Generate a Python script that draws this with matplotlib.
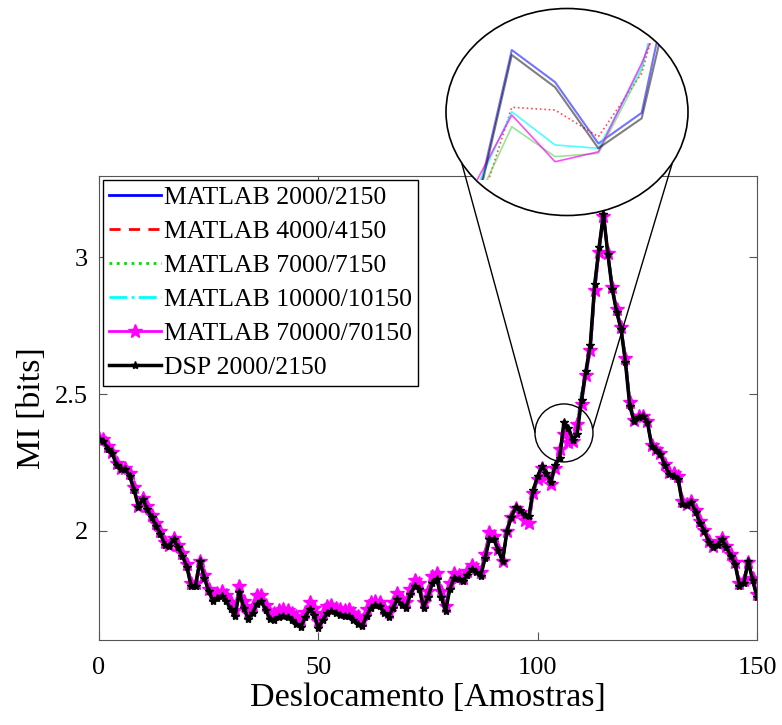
import matplotlib
matplotlib.use('Agg')
import matplotlib.pyplot as plt
from matplotlib.patches import Ellipse
from matplotlib.lines import Line2D
import numpy as np

plt.rcParams['font.family'] = ['Liberation Serif', 'DejaVu Serif']

# shift in samples
shift = np.arange(151)

# DSP 2000/2150
mi_dsp = [2.336, 2.33, 2.30, 2.285, 2.24, 2.225, 2.226, 2.20, 2.15, 2.088,
          2.117, 2.08, 2.05, 2.02, 1.99, 1.95, 1.945, 1.97, 1.94, 1.91,
          1.87, 1.80, 1.80, 1.89, 1.83, 1.78, 1.745, 1.755, 1.763, 1.745,
          1.715, 1.69, 1.777, 1.72, 1.68, 1.70, 1.735, 1.745, 1.71, 1.68,
          1.675, 1.685, 1.69, 1.685, 1.675, 1.66, 1.65, 1.685, 1.715, 1.695,
          1.645, 1.675, 1.70, 1.708, 1.70, 1.695, 1.69, 1.69, 1.675, 1.66,
          1.653, 1.69, 1.72, 1.73, 1.726, 1.70, 1.686, 1.72, 1.75, 1.73,
          1.72, 1.77, 1.80, 1.79, 1.72, 1.76, 1.81, 1.825, 1.76, 1.708,
          1.79, 1.83, 1.825, 1.817, 1.84, 1.86, 1.85, 1.836, 1.90, 1.97,
          1.97, 1.93, 1.89, 2.00, 2.05, 2.088, 2.075, 2.06, 2.055, 2.15,
          2.20, 2.237, 2.21, 2.18, 2.24, 2.268, 2.3966, 2.3745, 2.3327, 2.3532,
          2.48, 2.584, 2.68, 2.90, 3.036, 3.157, 3.01, 2.883, 2.80, 2.737,
          2.617, 2.456, 2.40, 2.416, 2.42, 2.398, 2.31, 2.295, 2.28, 2.24,
          2.208, 2.20, 2.19, 2.10, 2.095, 2.106, 2.07, 2.03, 2.00, 1.96,
          1.94, 1.95, 1.97, 1.94, 1.91, 1.88, 1.80, 1.81, 1.89, 1.82,
          1.76]

# MATLAB 70000/70150
mi_70000 = [2.34, 2.335, 2.31, 2.29, 2.25, 2.23, 2.23, 2.21, 2.16, 2.09,
            2.12, 2.09, 2.06, 2.03, 2.00, 1.96, 1.95, 1.975, 1.95, 1.92,
            1.88, 1.81, 1.81, 1.89, 1.84, 1.79, 1.765, 1.775, 1.78, 1.765,
            1.74, 1.71, 1.80, 1.745, 1.70, 1.725, 1.765, 1.765, 1.73, 1.70,
            1.70, 1.71, 1.715, 1.71, 1.70, 1.69, 1.675, 1.705, 1.74, 1.72,
            1.67, 1.70, 1.725, 1.73, 1.72, 1.715, 1.71, 1.715, 1.70, 1.69,
            1.675, 1.715, 1.74, 1.745, 1.74, 1.72, 1.705, 1.74, 1.775, 1.75,
            1.74, 1.79, 1.82, 1.81, 1.74, 1.78, 1.835, 1.845, 1.78, 1.725,
            1.81, 1.845, 1.84, 1.83, 1.855, 1.875, 1.865, 1.85, 1.915, 1.995,
            1.98, 1.935, 1.89, 2.00, 2.05, 2.085, 2.07, 2.04, 2.03, 2.14,
            2.19, 2.23, 2.20, 2.17, 2.23, 2.30, 2.3555, 2.3235, 2.3303, 2.3909,
            2.462, 2.57, 2.66, 2.88, 3.02, 3.15, 3.015, 2.89, 2.81, 2.745,
            2.63, 2.47, 2.405, 2.42, 2.42, 2.40, 2.315, 2.30, 2.285, 2.245,
            2.215, 2.21, 2.20, 2.11, 2.10, 2.11, 2.075, 2.035, 2.005, 1.965,
            1.945, 1.955, 1.975, 1.945, 1.915, 1.885, 1.81, 1.82, 1.885, 1.83,
            1.77]

# values around the zoomed peak (samples 105..110)
peak_idx = [105, 106, 107, 108, 109, 110]
peak_2000 = [2.271, 2.400, 2.378, 2.336, 2.357, 2.496]
peak_4000 = [2.268, 2.3608, 2.3589, 2.3406, 2.384, 2.491]
peak_7000 = [2.284, 2.3475, 2.327, 2.3292, 2.3863, 2.505]
peak_10000 = [2.294, 2.3577, 2.335, 2.3327, 2.3886, 2.49]

mi_2000 = list(mi_dsp)
mi_4000 = list(mi_70000)
mi_7000 = list(mi_70000)
mi_10000 = list(mi_70000)
for k, i in enumerate(peak_idx):
    mi_2000[i] = peak_2000[k]
    mi_4000[i] = peak_4000[k]
    mi_7000[i] = peak_7000[k]
    mi_10000[i] = peak_10000[k]

series = [
    ('MATLAB 2000/2150', mi_2000, dict(color='blue', ls='-', lw=2)),
    ('MATLAB 4000/4150', mi_4000, dict(color='red', ls=(0, (4, 3)), lw=2)),
    ('MATLAB 7000/7150', mi_7000, dict(color='#00dd00', ls=':', lw=2)),
    ('MATLAB 10000/10150', mi_10000, dict(color='cyan', ls='-.', lw=2)),
    ('MATLAB 70000/70150', mi_70000, dict(color='magenta', ls='-', lw=2,
                                          marker='*', ms=10)),
    ('DSP 2000/2150', mi_dsp, dict(color='black', ls='-', lw=2.5,
                                   marker='*', ms=6)),
]

W, H = 782, 725
fig = plt.figure(figsize=(W / 100, H / 100), dpi=100)
ax = fig.add_axes([99 / W, 85 / H, 658 / W, 464 / H])

for label, vals, style in series:
    ax.plot(shift, vals, label=label, **style)

ax.set_xlim(0, 150)
ax.set_ylim(1.602, 3.296)
ax.set_xticks([0, 50, 100, 150])
ax.set_yticks([2, 2.5, 3])
ax.set_yticklabels(['2', '2.5', '3'])
ax.tick_params(direction='in', length=6, labelsize=19, top=True, right=True,
               color='#555555')
ax.tick_params(axis='x', pad=12)
ax.tick_params(axis='y', pad=8)
for s in ax.spines.values():
    s.set_color('#555555')
ax.set_xlabel('Deslocamento [Amostras]', fontsize=24.5, labelpad=3)
ax.set_ylabel('MI [bits]', fontsize=24.5, labelpad=6)

leg = ax.legend(loc='upper left', fontsize=18.5, handlelength=2.0,
                handletextpad=0.12, labelspacing=0.43, borderpad=0.25,
                borderaxespad=0.15, fancybox=False, framealpha=1,
                edgecolor='black')
leg.get_frame().set_linewidth(1)

# small circle around the zoomed region
ax.add_patch(Ellipse((106.0, 2.358), 58 / 4.387, 58 / 274, fill=False,
                     ec='black', lw=1, zorder=10))

# connector lines
fig.add_artist(Line2D([535 / W, 462 / W], [1 - 432 / H, 1 - 164 / H],
                      color='black', lw=1, transform=fig.transFigure,
                      zorder=2))
fig.add_artist(Line2D([593 / W, 672 / W], [1 - 428 / H, 1 - 164 / H],
                      color='black', lw=1, transform=fig.transFigure,
                      zorder=2))

# big magnifier ellipse
big = Ellipse((567 / W, 1 - 112 / H), 242 / W, 207 / H,
              transform=fig.transFigure, fc='white', ec='black', lw=1.2,
              zorder=3)
fig.add_artist(big)

axin = fig.add_axes([446 / W, (H - 180) / H, 242 / W, 137 / H])
axin.set_zorder(4)
axin.patch.set_visible(False)
axin.set_axis_off()
inset_styles = [
    ('MATLAB 2000/2150', mi_2000, dict(color='blue', lw=1.5, alpha=0.55)),
    ('MATLAB 4000/4150', mi_4000, dict(color='red', lw=1.2, ls=':', alpha=0.7)),
    ('MATLAB 7000/7150', mi_7000, dict(color='#33cc33', lw=1.2, alpha=0.5)),
    ('MATLAB 10000/10150', mi_10000, dict(color='cyan', lw=1.2, alpha=0.7)),
    ('MATLAB 70000/70150', mi_70000, dict(color='magenta', lw=1.2, alpha=0.7)),
    ('DSP 2000/2150', mi_dsp, dict(color='black', lw=1.5, alpha=0.5)),
]
for label, vals, style in inset_styles:
    ln, = axin.plot(shift, vals, **style)
    ln.set_clip_path(big)
axin.set_xlim(104.48, 110.07)
axin.set_ylim(2.311, 2.4048)

fig.savefig('out.png', dpi=100)
